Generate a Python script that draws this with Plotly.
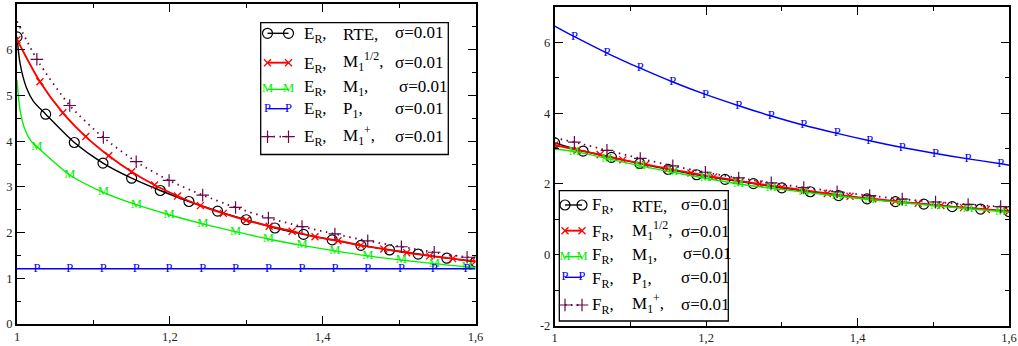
import plotly.graph_objects as go

# ---------------- data ----------------
# marker x-positions
x_rte = [1.0, 1.0375, 1.075, 1.1125, 1.15, 1.1875, 1.225, 1.2625, 1.3, 1.3375, 1.375,
         1.4125, 1.45, 1.4875, 1.525, 1.5625, 1.6]
x_m12 = [1.0, 1.03, 1.06, 1.09, 1.12, 1.15, 1.18, 1.21, 1.24, 1.27, 1.3, 1.33, 1.36,
         1.39, 1.42, 1.45, 1.48, 1.51, 1.54, 1.57, 1.6]
x_sym = [1.026, 1.069, 1.113, 1.156, 1.199, 1.243, 1.286, 1.329, 1.373, 1.416, 1.459,
         1.503, 1.546, 1.589]

# ---- left panel: E_R ----
E_rte = [6.28, 4.59, 3.97, 3.52, 3.19, 2.92, 2.68, 2.47, 2.28, 2.10, 1.96, 1.84, 1.72,
         1.62, 1.53, 1.44, 1.36]
E_rte_extra_x = [1.004, 1.0125, 1.0215]
E_rte_extra_y = [5.70, 5.16, 4.87]

E_m12 = [6.22, 5.30, 4.62, 4.10, 3.68, 3.33, 3.04, 2.80, 2.59, 2.42, 2.27, 2.14, 2.03,
         1.91, 1.82, 1.72, 1.64, 1.56, 1.49, 1.43, 1.37]

E_m1 = [3.88, 3.26, 2.88, 2.61, 2.39, 2.19, 2.02, 1.86, 1.72, 1.60, 1.49, 1.40, 1.32, 1.25]
E_m1_extra_x = [1.0, 1.004, 1.0105, 1.019, 1.6]
E_m1_extra_y = [5.34, 4.68, 4.25, 3.99, 1.24]

E_p1 = [1.21, 1.21, 1.21, 1.21, 1.21, 1.21, 1.21, 1.21, 1.21, 1.21, 1.21, 1.21, 1.21, 1.21]
E_p1_extra_x = [1.0, 1.6]
E_p1_extra_y = [1.21, 1.21]

E_m1p = [5.79, 4.78, 4.08, 3.55, 3.14, 2.82, 2.55, 2.32, 2.13, 1.97, 1.82, 1.69, 1.57, 1.46]
E_m1p_extra_x = [1.0, 1.6]
E_m1p_extra_y = [6.62, 1.44]

# ---- right panel: F_R ----
F_rte = [3.16, 2.93, 2.75, 2.58, 2.41, 2.26, 2.13, 2.01, 1.89, 1.78, 1.67, 1.58, 1.50,
         1.43, 1.36, 1.29, 1.22]

F_m12 = [3.10, 2.96, 2.83, 2.68, 2.55, 2.43, 2.31, 2.20, 2.10, 2.00, 1.91, 1.82, 1.73,
         1.65, 1.58, 1.51, 1.45, 1.39, 1.33, 1.28, 1.23]

F_m1 = [2.92, 2.72, 2.51, 2.33, 2.16, 2.00, 1.88, 1.77, 1.66, 1.56, 1.47, 1.38, 1.30, 1.22]
F_m1_extra_x = [1.0, 1.6]
F_m1_extra_y = [2.98, 1.20]

F_p1 = [6.16, 5.70, 5.27, 4.88, 4.53, 4.21, 3.92, 3.66, 3.43, 3.22, 3.03, 2.86, 2.71, 2.57]
F_p1_extra_x = [1.0, 1.6]
F_p1_extra_y = [6.46, 2.53]

F_m1p = [3.18, 2.95, 2.72, 2.51, 2.33, 2.17, 2.03, 1.90, 1.78, 1.67, 1.57, 1.49, 1.42, 1.36]
F_m1p_extra_x = [1.0, 1.6]
F_m1p_extra_y = [3.30, 1.34]

x_ticks = [1.0, 1.2, 1.4, 1.6]
x_ticktext = ["1", "1,2", "1,4", "1,6"]
x_minor = [1.1, 1.3, 1.5]
yL_ticks = [0, 1, 2, 3, 4, 5, 6, 7]
yR_ticks = [-2, 0, 2, 4, 6]

legend_labels_2 = ["RTE,", "M<sub>1</sub><sup>1/2</sup>,", "M<sub>1</sub>,",
                   "P<sub>1</sub>,", "M<sub>1</sub><sup>+</sup>,"]
sigma_label = "σ=0.01"

# ---------------- styles ----------------
W, H = 1018, 346
BLACK, RED, GREEN, BLUE, MAROON = "#000000", "#ff0000", "#00f000", "#0000ff", "#670748"
SERIF = "Liberation Serif, 'Times New Roman', Times, 'DejaVu Serif', serif"


def merge(xm, ym, xe=None, ye=None):
    pts = list(zip(xm, ym))
    if xe:
        pts += list(zip(xe, ye))
    pts.sort()
    return [p[0] for p in pts], [p[1] for p in pts]


fig = go.Figure()

styles = {
    "rte": dict(color=BLACK, width=1.4, dash="solid", kind="marker",
                marker=dict(symbol="circle-open", size=10, color=BLACK, line=dict(width=1.2, color=BLACK))),
    "m12": dict(color=RED, width=1.9, dash="solid", kind="marker",
                marker=dict(symbol="x-thin-open", size=7, color=RED, line=dict(width=1.3, color=RED))),
    "m1": dict(color=GREEN, width=1.4, dash="solid", kind="text", text="M"),
    "p1": dict(color=BLUE, width=1.4, dash="solid", kind="text", text="P"),
    "m1p": dict(color=MAROON, width=1.8, dash="1.5px,4.5px", kind="marker",
                marker=dict(symbol="cross-thin-open", size=9, color=MAROON, line=dict(width=1.2, color=MAROON))),
}


def add_series(key, xm, ym, xe, ye, xa, ya):
    st = styles[key]
    lx, ly = merge(xm, ym, xe, ye)
    fig.add_trace(go.Scatter(x=lx, y=ly, mode="lines", xaxis=xa, yaxis=ya,
                             line=dict(color=st["color"], width=st["width"], dash=st["dash"],
                                       shape="spline", smoothing=0.7),
                             showlegend=False, hoverinfo="skip"))
    if st["kind"] == "marker":
        fig.add_trace(go.Scatter(x=xm, y=ym, mode="markers", xaxis=xa, yaxis=ya,
                                 marker=st["marker"], showlegend=False, hoverinfo="skip"))
    else:
        fig.add_trace(go.Scatter(x=xm, y=ym, mode="text", xaxis=xa, yaxis=ya,
                                 text=[st["text"]] * len(xm), textposition="middle center",
                                 textfont=dict(family=SERIF, size=12.5, color=st["color"]),
                                 showlegend=False, hoverinfo="skip"))


# left panel
add_series("rte", x_rte, E_rte, E_rte_extra_x, E_rte_extra_y, "x", "y")
add_series("m12", x_m12, E_m12, None, None, "x", "y")
add_series("m1", x_sym, E_m1, E_m1_extra_x, E_m1_extra_y, "x", "y")
add_series("p1", x_sym, E_p1, E_p1_extra_x, E_p1_extra_y, "x", "y")
add_series("m1p", x_sym, E_m1p, E_m1p_extra_x, E_m1p_extra_y, "x", "y")
# right panel
add_series("rte", x_rte, F_rte, None, None, "x2", "y2")
add_series("m12", x_m12, F_m12, None, None, "x2", "y2")
add_series("m1", x_sym, F_m1, F_m1_extra_x, F_m1_extra_y, "x2", "y2")
add_series("p1", x_sym, F_p1, F_p1_extra_x, F_p1_extra_y, "x2", "y2")
add_series("m1p", x_sym, F_m1p, F_m1p_extra_x, F_m1p_extra_y, "x2", "y2")

# ---------------- custom legends (pixel overlay axis) ----------------
keys = ["rte", "m12", "m1", "p1", "m1p"]
shapes = []
annotations = []


def build_legend(box, x0, x1, line_ys, col_x, base_ys, first, sig_x):
    shapes.append(dict(type="rect", xref="x3", yref="y3", x0=box[0], x1=box[1], y0=box[2], y1=box[3],
                       line=dict(color="black", width=1.3), fillcolor="white", layer="below"))
    for i, key in enumerate(keys):
        st = styles[key]
        ly = line_ys[i]
        fig.add_trace(go.Scatter(x=[x0, x1], y=[ly, ly], mode="lines", xaxis="x3", yaxis="y3",
                                 line=dict(color=st["color"], width=st["width"], dash=st["dash"]),
                                 showlegend=False, hoverinfo="skip"))
        if st["kind"] == "marker":
            fig.add_trace(go.Scatter(x=[x0, x1], y=[ly, ly], mode="markers", xaxis="x3", yaxis="y3",
                                     marker=st["marker"], showlegend=False, hoverinfo="skip"))
        else:
            fig.add_trace(go.Scatter(x=[x0, x1], y=[ly, ly], mode="text", xaxis="x3", yaxis="y3",
                                     text=[st["text"]] * 2, textposition="middle center",
                                     textfont=dict(family=SERIF, size=12.5, color=st["color"]),
                                     showlegend=False, hoverinfo="skip"))
        b = base_ys[i]
        lab2 = legend_labels_2[i]
        c1 = b - 3.7
        c2 = b - (6.6 if "<sup>" in lab2 else 3.7)
        c3 = b - 5.7
        font = dict(family=SERIF, size=17, color="black")
        annotations.append(dict(x=col_x[0], y=c1, xref="x3", yref="y3", xanchor="left", yanchor="middle",
                                text=first, showarrow=False, font=font))
        annotations.append(dict(x=col_x[1], y=c2, xref="x3", yref="y3", xanchor="left", yanchor="middle",
                                text=lab2, showarrow=False, font=font))
        annotations.append(dict(x=sig_x[i], y=c3, xref="x3", yref="y3", xanchor="left", yanchor="middle",
                                text=sigma_label, showarrow=False, font=font))


build_legend((260.7, 448.3, 22.7, 154.5), 267.5, 288.5,
             [33.3, 62.7, 89.3, 108.7, 136.7], (301.5, 340.5), [38.3, 68.3, 91.7, 114, 141.7],
             "E<sub>R</sub>,", [392.7, 392.7, 396.7, 392.7, 392.7])
build_legend((559.3, 728.3, 190.7, 321.0), 565.0, 582.0,
             [205, 230.7, 256.7, 277.3, 305], (589.5, 629.5), [210, 236.7, 259.3, 283.3, 310],
             "F<sub>R</sub>,", [678.5, 678.5, 681.0, 678.5, 678.5])

# ---------------- axes ----------------
tickfont = dict(family=SERIF, size=12.5, color="#222222")
common = dict(showline=True, linecolor="black", linewidth=1.8, mirror="ticks", ticks="inside",
              ticklen=8, tickwidth=1.3, tickcolor="black", showgrid=False, zeroline=False,
              tickfont=tickfont, automargin=False, fixedrange=True)

xcommon = dict(common, range=[1.0, 1.6], tickvals=x_ticks, ticktext=x_ticktext,
               minor=dict(tickvals=x_minor, ticks="inside", ticklen=4, tickwidth=1.3, tickcolor="black"))

fig.update_layout(
    width=W, height=H,
    margin=dict(l=0, r=0, t=0, b=0),
    paper_bgcolor="white", plot_bgcolor="rgba(0,0,0,0)",
    showlegend=False,
    font=dict(family=SERIF),
    xaxis=dict(xcommon, domain=[17 / W, 475.5 / W], anchor="y"),
    yaxis=dict(common, domain=[22 / H, 342 / H], anchor="x", range=[0, 7], tickvals=yL_ticks,
               ticktext=[str(v) for v in yL_ticks],
               minor=dict(dtick=0.5, ticks="inside", ticklen=4, tickwidth=1.3, tickcolor="black")),
    xaxis2=dict(xcommon, domain=[554.7 / W, 1009 / W], anchor="y2"),
    yaxis2=dict(common, domain=[20.5 / H, 339 / H], anchor="x2", range=[-2, 7], tickvals=yR_ticks,
                ticktext=[str(v) for v in yR_ticks],
                minor=dict(dtick=1, ticks="inside", ticklen=4, tickwidth=1.3, tickcolor="black")),
    xaxis3=dict(domain=[0, 1], range=[0, W], visible=False, anchor="y3", fixedrange=True),
    yaxis3=dict(domain=[0, 1], range=[H, 0], visible=False, anchor="x3", fixedrange=True),
    shapes=shapes,
    annotations=annotations,
)

fig.write_html("out.html")
